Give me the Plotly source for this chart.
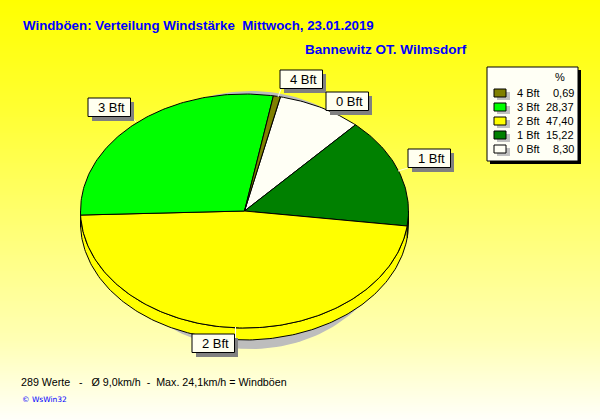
import numpy as np
import plotly.graph_objects as go

# --- data ---
categories = ["0 Bft", "1 Bft", "2 Bft", "3 Bft", "4 Bft"]
percent = [8.30, 15.22, 47.40, 28.37, 0.69]
percent_labels = ["8,30", "15,22", "47,40", "28,37", "0,69"]
colors = ["#FFFFF5", "#008000", "#FFFF00", "#00FF00", "#808000"]
legend_order = [4, 3, 2, 1, 0]
title_main = "Windböen: Verteilung Windstärke\u00a0\u00a0Mittwoch, 23.01.2019"
title_station = "Bannewitz OT. Wilmsdorf"
footer = "289 Werte\u00a0\u00a0\u00a0-\u00a0\u00a0\u00a0Ø 9,0km/h\u00a0\u00a0-\u00a0\u00a0Max. 24,1km/h = Windböen"
credit = "© WsWin32"

# --- geometry of the drawing (pixels) ---
W, H = 600, 420
CX, CY, RX, RY, DEPTH = 244.5, 211, 164, 117, 12
START = -77.3  # degrees clockwise from east, on the ellipse parameter
LINE = dict(color="black", width=1)
FONT = "Liberation Sans"

fig = go.Figure()

# background gradient
rows = np.arange(0, H + 1, 2)
shade = np.interp(rows, [0, 110, 340, 420], [0, 50, 180, 250])
fig.add_trace(go.Heatmap(
    x=[0, W], y=rows, z=[[v, v] for v in shade], zmin=0, zmax=255,
    colorscale=[[0, "#FFFF00"], [1, "#FFFFFF"]], showscale=False,
    hoverinfo="skip", zsmooth=False))


def ell(t, dy=0.0, rx=RX, ry=RY, cx=CX, cy=CY):
    r = np.radians(t)
    return cx + rx * np.cos(r), cy + dy + ry * np.sin(r)


def poly(x, y, color, line=LINE):
    fig.add_trace(go.Scatter(
        x=list(x), y=list(y), mode="lines", fill="toself", fillcolor=color,
        line=line, hoverinfo="skip", showlegend=False))


# ground shadow
t = np.linspace(0, 360, 181)
sx, sy = ell(t, rx=146, ry=129, cx=251, cy=220)
poly(sx, sy, "#BDBDBD", dict(color="#BDBDBD", width=0))

# slice angles from the values
edges = START + np.concatenate([[0], np.cumsum(percent)]) * 3.6

# side wall: only the part of each slice facing the viewer
for i, c in enumerate(colors):
    a, b = max(edges[i], 0), min(edges[i + 1], 180)
    if b <= a:
        continue
    t = np.linspace(a, b, max(int(b - a), 2))
    x1, y1 = ell(t)
    x2, y2 = ell(t[::-1], dy=DEPTH)
    poly(np.r_[x1, x2, x1[0]], np.r_[y1, y2, y1[0]], c)

# top surface
for i, c in enumerate(colors):
    a, b = edges[i], edges[i + 1]
    t = np.linspace(a, b, max(int(b - a) + 1, 2))
    x, y = ell(t)
    poly(np.r_[CX, x, CX], np.r_[CY, y, CY], c)

shapes, ann = [], []


def rect(x0, y0, x1, y1, fill, line=None):
    shapes.append(dict(type="rect", x0=x0, y0=y0, x1=x1, y1=y1, fillcolor=fill,
                       line=dict(color=line or fill, width=1 if line else 0)))


def text(x, y, s, size=12, color="black", anchor="left", bold=False, family=FONT):
    # annotations carry about 2px of inner padding
    pad = {"left": -2, "right": 2, "center": 0}[anchor]
    ann.append(dict(x=x, y=y, text=f"<b>{s}</b>" if bold else s, showarrow=False,
                    xanchor=anchor, yanchor="middle", xshift=pad,
                    font=dict(size=size, color=color, family=family)))


# leader lines
for x0, y0, x1, y1 in [(281, 89, 278, 97), (408, 168, 398, 171),
                       (235.5, 327, 235.5, 339), (131, 116, 136, 122)]:
    shapes.append(dict(type="line", x0=x0, y0=y0, x1=x1, y1=y1,
                       line=dict(color="#FFFFE0", width=1)))

# slice labels
label_boxes = {"4 Bft": (280, 70), "0 Bft": (326, 92), "1 Bft": (408, 149),
               "3 Bft": (88, 98), "2 Bft": (192, 334)}
for name, (bx, by) in label_boxes.items():
    rect(bx + 4, by + 4, bx + 46, by + 23, "#808080")
    rect(bx, by, bx + 42.5, by + 18.5, "#FFFFF0", "black")
    text(bx + 23.5, by + 9.5, name, size=13, anchor="center")

# legend
rect(490, 70, 581, 164, "black")
rect(487, 67, 578, 161, "#FFFFF5", "black")
text(560, 77, "%", size=11, anchor="center")
for row, idx in enumerate(legend_order):
    yc = 93 + row * 14
    rect(497, yc - 1, 510, yc + 7, "#C0C0C0")
    rect(494, yc - 4, 506, yc + 4, colors[idx], "black")
    text(517, yc, categories[idx], size=11)
    text(573.5, yc, percent_labels[idx], size=11, anchor="right")

# titles and footer
text(23, 25, title_main, size=13.3, color="#0000FF", bold=True)
text(305, 49, title_station, size=13.5, color="#0000FF", bold=True)
text(21, 382, footer, size=10.7)
text(22, 399, credit, size=7.5, color="#0000FF", family="DejaVu Sans")

fig.update_layout(
    width=W, height=H, margin=dict(l=0, r=0, t=0, b=0), autosize=False,
    showlegend=False, paper_bgcolor="#FFFFFF", plot_bgcolor="#FFFFFF",
    xaxis=dict(range=[0, W], visible=False, fixedrange=True),
    yaxis=dict(range=[H, 0], visible=False, fixedrange=True),
    shapes=shapes, annotations=ann)
fig.write_html("out.html", config=dict(displayModeBar=False),
               post_script="document.body.style.margin='0';document.body.style.overflow='hidden';")
